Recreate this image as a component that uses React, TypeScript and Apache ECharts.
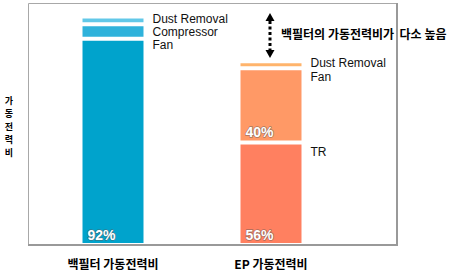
import React, { useEffect, useRef } from "react";
import * as echarts from "echarts";

const categories = ["백필터 가동전력비", "EP 가동전력비"];

const bagNames = ["Fan", "Compressor", "Dust Removal"];
const bagValues = [92, 6.5, 3.5];
const bagShares = ["92%", "", ""];

const epNames = ["TR", "Fan", "Dust Removal"];
const epValues = [45.7, 33.2, 3.1];
const epShares = ["56%", "40%", ""];

const yAxisTitle = "가동전력비";
const noteText = "백필터의 가동전력비가  다소 높음";

const bagColors = ["#00A3CC", "#2FB2DB", "#62C8E8"];
const epColors = ["#FF8060", "#FF9966", "#FFB46C"];
const bagNameOffsets = [6, 7.5, 2.5];
const epNameOffsets = [9.5, 9, 2];

const BAR_W = 65;
const LATIN = "'Liberation Sans', Arial, sans-serif";
const KOR = "'Noto Sans CJK KR', sans-serif";

export default function App() {
  const ref = useRef<HTMLDivElement>(null);
  useEffect(() => {
    if (!ref.current) return;
    const chart = echarts.init(ref.current, null, { renderer: "svg" });
    const stacks = [bagValues, epValues];
    const names = [bagNames, epNames];
    const colors = [bagColors, epColors];
    const offsets = [bagNameOffsets, epNameOffsets];
    const series = [0, 1, 2].map((level) => ({
      type: "bar",
      stack: "total",
      barWidth: BAR_W,
      silent: true,
      data: [0, 1].map((c) => ({
        value: stacks[c][level],
        itemStyle: { color: colors[c][level], borderColor: "#fff", borderWidth: 2 },
        label: {
          show: true,
          position: [BAR_W + 7, offsets[c][level]],
          align: "left",
          verticalAlign: "middle",
          formatter: names[c][level],
          color: "#111",
          fontSize: 12,
          fontFamily: LATIN,
        },
      })),
    }));
    chart.setOption({
      animation: false,
      grid: { left: 34, right: 106, top: 3, bottom: 29, containLabel: false },
      xAxis: {
        type: "category",
        data: categories,
        axisLine: { show: false },
        axisTick: { show: false },
        axisLabel: {
          margin: 12,
          color: "#000",
          fontSize: 12,
          fontWeight: "bold",
          fontFamily: KOR,
        },
      },
      yAxis: {
        type: "value",
        min: 0,
        max: 108,
        show: false,
        splitLine: { show: false },
      },
      series,
    });

    const pctGraphics: any[] = [];
    const shares = [bagShares, epShares];
    [0, 1].forEach((c) => {
      let base = 0;
      stacks[c].forEach((v, i) => {
        if (shares[c][i]) {
          const p = chart.convertToPixel({ gridIndex: 0 }, [c, base]) as number[];
          pctGraphics.push({
            type: "text",
            x: p[0] - BAR_W / 2 + 7,
            y: p[1] - 10.5,
            z: 20,
            style: {
              text: shares[c][i],
              fill: "#fff",
              font: `bold 14px ${LATIN}`,
              textVerticalAlign: "middle",
              stroke: "rgba(90,90,90,0.55)",
              lineWidth: 1.5,
            },
          });
        }
        base += v;
      });
    });

    const titleChars = yAxisTitle.split("").map((ch, i) => ({
      type: "text",
      x: 9,
      y: 100.5 + i * 13,
      style: {
        text: ch,
        font: `bold 9px ${KOR}`,
        fill: "#000",
        textAlign: "center",
        textVerticalAlign: "middle",
      },
    }));

    chart.setOption({
      graphic: [
        {
          type: "rect",
          z: 10,
          shape: { x: 28.5, y: 3.5, width: 368.5, height: 241.5 },
          style: { fill: "none", stroke: "#a8a8a8", lineWidth: 1 },
        },
        {
          type: "line",
          z: 11,
          shape: { x1: 28, y1: 245, x2: 398, y2: 245 },
          style: { stroke: "#999", lineWidth: 2 },
        },
        {
          type: "line",
          z: 11,
          shape: { x1: 397, y1: 3, x2: 397, y2: 246 },
          style: { stroke: "#999", lineWidth: 2 },
        },
        ...titleChars,
        {
          type: "line",
          shape: { x1: 270, y1: 21, x2: 270, y2: 51 },
          style: { stroke: "#000", lineWidth: 3, lineDash: [3, 2.5] },
        },
        {
          type: "polygon",
          shape: { points: [[270, 13], [265.5, 21], [274.5, 21]] },
          style: { fill: "#000" },
        },
        {
          type: "polygon",
          shape: { points: [[270, 58], [265.5, 50], [274.5, 50]] },
          style: { fill: "#000" },
        },
        {
          type: "text",
          x: 281,
          y: 33,
          style: {
            text: noteText,
            font: `bold 12px ${KOR}`,
            fill: "#000",
            textVerticalAlign: "middle",
          },
        },
        ...pctGraphics,
      ],
    });
    return () => chart.dispose();
  }, []);
  return <div ref={ref} style={{ width: 456, height: 274, position: "absolute", left: 0, top: 0 }} />;
}
